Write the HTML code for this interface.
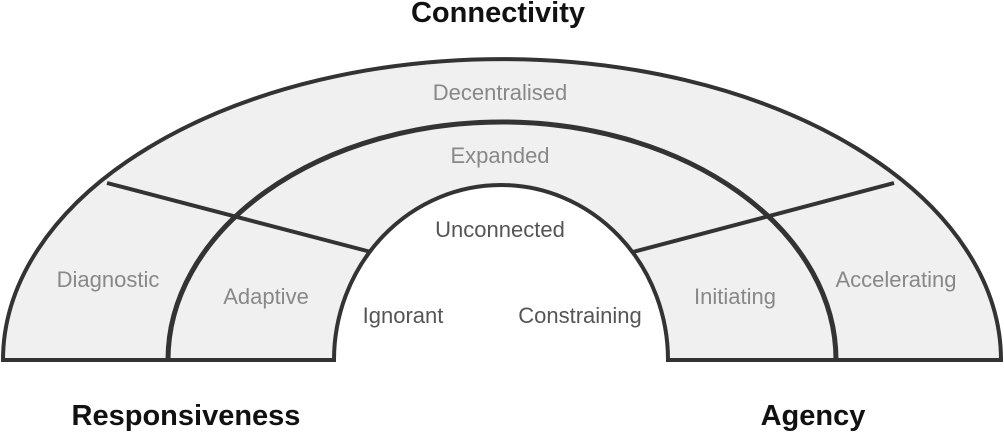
<!DOCTYPE html>
<html><head><meta charset="utf-8"><style>
html,body{margin:0;padding:0;background:#fff;}
svg{display:block;}
text{font-family:"Liberation Sans","DejaVu Sans",sans-serif;}
</style></head><body>
<svg width="1004" height="434" viewBox="0 0 1004 434">
<path d="M3,360 A499,301 0 0 1 1001,360 L668,360 A167,175 0 0 0 334,360 Z" fill="#f0f0f0" stroke="#333" stroke-width="4" stroke-linejoin="miter"/>
<path d="M168,360 A334,238 0 0 1 836,360" fill="none" stroke="#333" stroke-width="5"/>
<line x1="107" y1="183" x2="371" y2="252" stroke="#333" stroke-width="4"/>
<line x1="633" y1="252" x2="894" y2="183" stroke="#333" stroke-width="4"/>
<g font-size="22" fill="#888" text-anchor="middle">
<text x="500" y="100">Decentralised</text>
<text x="500" y="163">Expanded</text>
<text x="108" y="287">Diagnostic</text>
<text x="266" y="304">Adaptive</text>
<text x="735" y="304">Initiating</text>
<text x="896" y="287">Accelerating</text>
</g>
<g font-size="22" fill="#555" text-anchor="middle">
<text x="500" y="237">Unconnected</text>
<text x="403" y="323">Ignorant</text>
<text x="580" y="323">Constraining</text>
</g>
<g font-size="29" font-weight="bold" fill="#111" text-anchor="middle">
<text x="498" y="22">Connectivity</text>
<text x="186" y="425">Responsiveness</text>
<text x="813" y="425">Agency</text>
</g>
</svg>
</body></html>
